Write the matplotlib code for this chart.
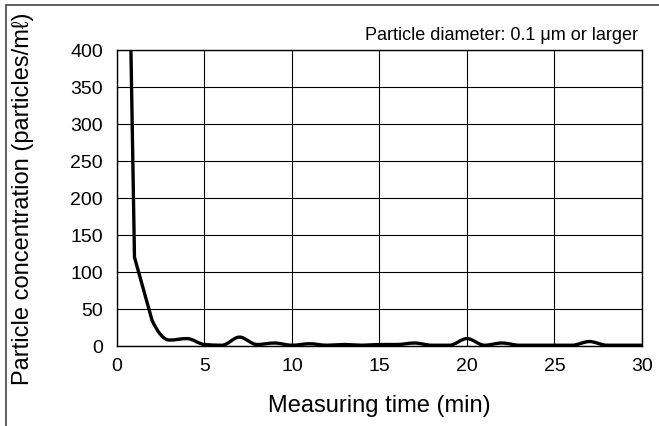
import matplotlib
matplotlib.use("Agg")
import matplotlib.pyplot as plt
import numpy as np
from matplotlib.path import Path
from matplotlib.patches import PathPatch, Rectangle

plt.rcParams["font.family"] = ["Liberation Sans", "DejaVu Sans"]

# 测定数据（每分钟一个点）
time_min = [0, 1, 2, 3, 4, 5, 6, 7, 8, 9, 10, 11, 12, 13, 14, 15,
            16, 17, 18, 19, 20, 21, 22, 23, 24, 25, 26, 27, 28, 29, 30]
concentration = [1500, 120, 35, 8, 10, 2, 1, 12, 2, 4, 1, 3, 1, 2, 1, 2,
                 2, 4, 1, 1, 10, 1, 4, 1, 1, 1, 1, 6, 1, 1, 1]
x_ticks = [0, 5, 10, 15, 20, 25, 30]
y_ticks = [0, 50, 100, 150, 200, 250, 300, 350, 400]


def smooth_path(x, y, n_straight=2):
    """前几段直线，其余单调三次平滑（Fritsch-Carlson -> Bezier）"""
    x = np.asarray(x, float)
    y = np.asarray(y, float)
    h = np.diff(x)
    d = np.diff(y) / h
    m = np.zeros_like(y)
    m[0], m[-1] = d[0], d[-1]
    for i in range(1, len(y) - 1):
        if d[i - 1] * d[i] > 0:
            w1 = 2 * h[i] + h[i - 1]
            w2 = h[i] + 2 * h[i - 1]
            m[i] = (w1 + w2) / (w1 / d[i - 1] + w2 / d[i])
    m[n_straight] = d[n_straight - 1] * 0.6 if d[n_straight - 1] * d[n_straight] > 0 else 0
    verts = [(x[0], y[0])]
    codes = [Path.MOVETO]
    for i in range(len(y) - 1):
        if i < n_straight:
            verts.append((x[i + 1], y[i + 1]))
            codes.append(Path.LINETO)
            continue
        verts += [(x[i] + h[i] / 3, y[i] + m[i] * h[i] / 3),
                  (x[i + 1] - h[i] / 3, y[i + 1] - m[i + 1] * h[i] / 3),
                  (x[i + 1], y[i + 1])]
        codes += [Path.CURVE4] * 3
    return Path(verts, codes)


fig = plt.figure(figsize=(6.59, 4.27), dpi=100)
ax = fig.add_axes([0.1775, 0.1874, 0.7967, 0.6932])

patch = PathPatch(smooth_path(time_min, concentration), facecolor="none",
                  edgecolor="black", linewidth=2.4, capstyle="round",
                  joinstyle="round", zorder=3)
ax.add_patch(patch)

ax.set_xlim(0, 30)
ax.set_ylim(0, 400)
ax.set_xticks(x_ticks)
ax.set_yticks(y_ticks)
ax.tick_params(length=0, labelsize=14, colors="black")
ax.tick_params(axis="x", pad=8)
ax.tick_params(axis="y", pad=10)
ax.grid(True, color="black", linewidth=0.8)
ax.set_axisbelow(True)
for s in ax.spines.values():
    s.set_linewidth(1.0)
    s.set_color("black")

ax.set_xlabel("Measuring time (min)", fontsize=17, labelpad=14)
ax.set_ylabel("Particle concentration (particles/m\u2113)", fontsize=17, labelpad=26)

fig.text(0.968, 0.917, "Particle diameter: 0.1 \u03bcm or larger",
         ha="right", va="center", fontsize=13)

# 外框
fig.patches.append(Rectangle((6 / 659, -0.1), 1.2, 1.1 - 6 / 427,
                             transform=fig.transFigure, fill=False,
                             edgecolor="#444444", linewidth=1.2))

fig.savefig("out.png", dpi=100, facecolor="white")
